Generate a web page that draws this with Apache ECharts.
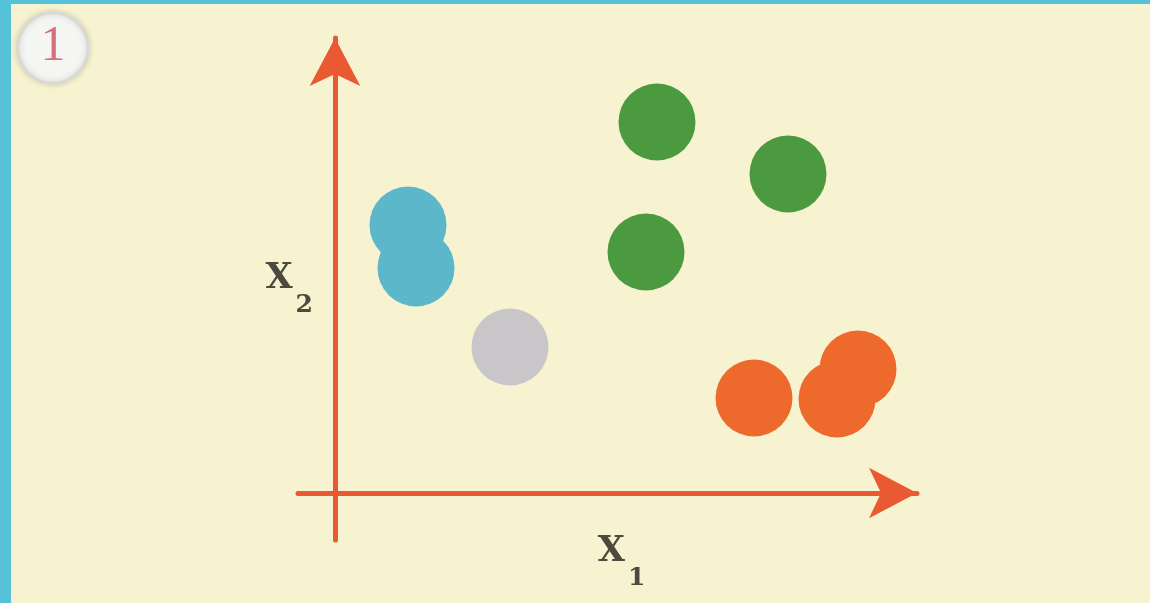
<!DOCTYPE html>
<html>
<head>
<meta charset="utf-8">
<style>
  html, body { margin: 0; padding: 0; background: #f7f3d0; }
  #main { width: 1150px; height: 603px; }
</style>
<script src="https://cdn.jsdelivr.net/npm/echarts@6/dist/echarts.min.js"></script>
</head>
<body>
<div id="main"></div>
<script>
var dom = document.getElementById("main");
var myChart;

// cluster points, x1 / x2 in axis units
var cyanPts = [[1.46, 5.36], [1.62, 4.50]];
var grayPts = [[3.50, 2.92]];
var greenPts = [[6.44, 7.42], [9.06, 6.38], [6.22, 4.82]];
var orangePts = [[8.38, 1.90], [10.46, 2.48], [10.04, 1.88]];

// axis extents
var xRange = [-0.74, 11.64];
var yRange = [-0.94, 9.10];

var axisColor = '#e95a32';
var labelColor = '#4a4a3e';

function dotSeries(name, data, color) {
    return {
        name: name,
        type: 'scatter',
        data: data,
        symbolSize: 77,
        itemStyle: {
            color: color,
            opacity: 1
        },
        emphasis: { disabled: true },
        silent: true
    };
}

var nameRich = {
    x: {
        fontFamily: 'DejaVu Serif',
        fontWeight: 'bold',
        fontSize: 35,
        lineHeight: 36,
        verticalAlign: 'top',
        color: labelColor
    },
    s: {
        fontFamily: 'DejaVu Serif',
        fontWeight: 'bold',
        fontSize: 25,
        lineHeight: 25,
        padding: [32, 0, 0, 3],
        verticalAlign: 'top',
        color: labelColor
    }
};

var option = {
    backgroundColor: '#f7f3d0',
    animation: false,
    grid: {
        left: 298,
        top: 38,
        width: 619,
        height: 502,
        outerBoundsMode: 'none'
    },
    xAxis: {
        type: 'value',
        min: xRange[0],
        max: xRange[1],
        name: '{x|X}{s|1}',
        nameLocation: 'middle',
        nameGap: -6,
        nameTextStyle: {
            rich: nameRich,
            padding: [0, 0, 0, 28]
        },
        axisLine: {
            onZero: true,
            symbol: ['none', 'arrow'],
            symbolSize: [38, 48],
            lineStyle: { color: axisColor, width: 5 }
        },
        axisTick: { show: false },
        axisLabel: { show: false },
        splitLine: { show: false }
    },
    yAxis: {
        type: 'value',
        min: yRange[0],
        max: yRange[1],
        name: '{x|X}{s|2}',
        nameLocation: 'middle',
        nameRotate: 0,
        nameGap: -15,
        nameTextStyle: {
            rich: nameRich,
            padding: [0, 0, 20, 0]
        },
        axisLine: {
            onZero: true,
            symbol: ['none', 'arrow'],
            symbolSize: [38, 48],
            lineStyle: { color: axisColor, width: 5 }
        },
        axisTick: { show: false },
        axisLabel: { show: false },
        splitLine: { show: false }
    },
    graphic: [
        { type: 'rect', left: 0, top: 0, shape: { width: 11, height: 603 }, style: { fill: '#55c2d9' }, silent: true },
        { type: 'rect', left: 0, top: 0, shape: { width: 1150, height: 4 }, style: { fill: '#55c2d9' }, silent: true },
        {
            type: 'circle',
            shape: { cx: 53, cy: 48, r: 35 },
            style: {
                fill: '#f5f5f3',
                stroke: '#d9d9d6',
                lineWidth: 3,
                shadowBlur: 6,
                shadowColor: 'rgba(0,0,0,0.15)'
            },
            silent: true
        },
        {
            type: 'text',
            x: 53,
            y: 47,
            style: {
                text: '1',
                fontFamily: 'Liberation Serif',
                fontSize: 50,
                fill: '#d4727c',
                align: 'center',
                verticalAlign: 'middle'
            },
            silent: true
        }
    ],
    series: [
        dotSeries('cyan', cyanPts, '#5db7ca'),
        dotSeries('gray', grayPts, '#c9c6ca'),
        dotSeries('green', greenPts, '#4b9a3f'),
        dotSeries('orange', orangePts, '#ee6a2c')
    ]
};

myChart = echarts.init(dom);
if (option && typeof option === "object") {
    myChart.setOption(option, true);
}
</script>
</body>
</html>
